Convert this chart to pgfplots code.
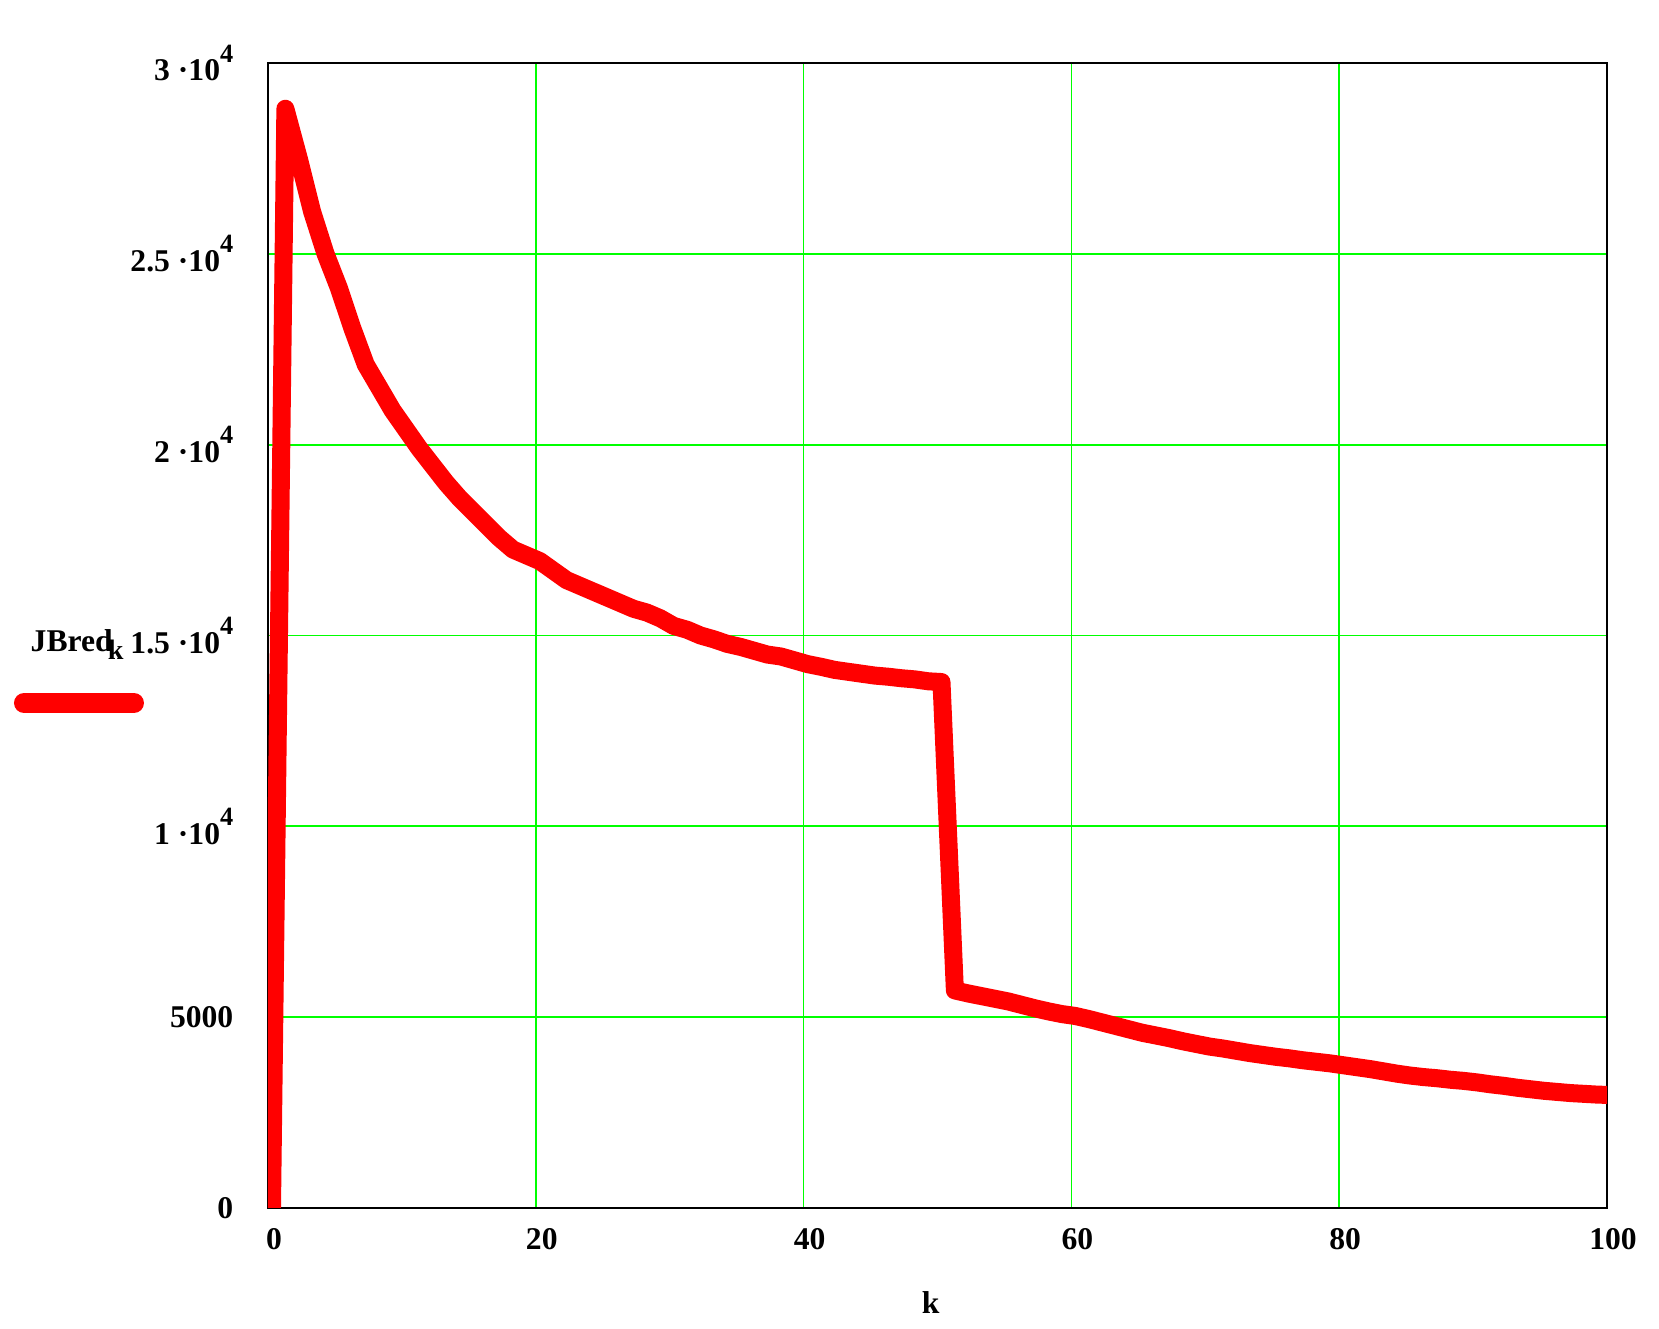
\documentclass[border=0pt]{standalone}
\usepackage{fontspec}
\setmainfont{Liberation Serif}
\usepackage{pgfplots}
\pgfplotsset{compat=1.18}
\definecolor{mcgreen}{RGB}{0,255,0}
\definecolor{mcred}{RGB}{255,0,0}
\newcommand{\sci}[2]{#1 ·10\raisebox{5.4pt}{\fontsize{7.5}{8}\selectfont #2}}
\newcommand{\lbl}{\fontsize{9}{10}\selectfont\bfseries}

\begin{document}
\begin{tikzpicture}
\begin{axis}[
    scale only axis,
    width=13.39cm,
    height=11.45cm,
    xmin=0, xmax=100,
    ymin=0, ymax=30000,
    xtick={0,20,...,100},
    xticklabels={0,20,40,60,80,100},
    ytick={0,5000,...,30000},
    yticklabels={0,5000,\sci{1}{4},\sci{1.5}{4},\sci{2}{4},\sci{2.5}{4},\sci{3}{4}},
    scaled y ticks=false,
    grid=major,
    grid style={mcgreen, line width=0.5pt},
    major tick length=0pt,
    axis line style={black, line width=0.8pt},
    tick label style={font=\lbl},
    yticklabel style={anchor=east, inner sep=0pt, xshift=-3.4mm},
    xticklabel style={anchor=north, inner sep=0pt, yshift=-2mm, xshift=0.6mm},
    xlabel={k},
    xlabel style={font=\lbl, at={(axis description cs:0.495,-0.083)}, anchor=center},
]

% JBred_k  (Mathcad draws the trace a few pixels right of the grid)
\addplot[mcred, line width=1.8mm, line join=round, line cap=round, xshift=0.4mm] coordinates {
    (0,0) (1,28800) (2,27500) (3,26100) (4,25000) (5,24100) (6,23050)
    (7,22100) (8,21500) (9,20900) (10,20400) (11,19900) (12,19450)
    (13,19000) (14,18600) (15,18250) (16,17900) (17,17550) (18,17250)
    (19,17100) (20,16950) (21,16700) (22,16450) (23,16300) (24,16150)
    (25,16000) (26,15850) (27,15700) (28,15600) (29,15450) (30,15250)
    (31,15150) (32,15000) (33,14900) (34,14780) (35,14700) (36,14600)
    (37,14500) (38,14450) (39,14350) (40,14250) (41,14180) (42,14100)
    (43,14050) (44,14000) (45,13950) (46,13920) (47,13880) (48,13850)
    (49,13800) (50,13780) (51,5700) (52,5620) (53,5550) (54,5480)
    (55,5410) (56,5320) (57,5230) (58,5150) (59,5080) (60,5030)
    (61,4950) (62,4860) (63,4770) (64,4680) (65,4590) (66,4520)
    (67,4450) (68,4370) (69,4300) (70,4230) (71,4180) (72,4120)
    (73,4060) (74,4010) (75,3960) (76,3920) (77,3870) (78,3830)
    (79,3790) (80,3740) (81,3690) (82,3640) (83,3580) (84,3520)
    (85,3470) (86,3430) (87,3400) (88,3360) (89,3330) (90,3290)
    (91,3240) (92,3200) (93,3150) (94,3110) (95,3070) (96,3040)
    (97,3010) (98,2990) (99,2970) (100,2960)
};
\end{axis}

% legend, Mathcad style: name above a sample of the trace
\node[anchor=base west, inner sep=0pt, font=\lbl]
    at ([xshift=-2.38cm, yshift=5.56cm]current axis.south west)
    {JBred\kern-0.15em\raisebox{-2.2pt}{\fontsize{8}{8}\selectfont k}};
\draw[mcred, line width=2mm, line cap=round]
    ([xshift=-2.44cm, yshift=5.05cm]current axis.south west) -- ++(1.1cm,0);

\pgfresetboundingbox
\path[use as bounding box]
    ([xshift=-2.68cm, yshift=-1.21cm]current axis.south west)
    rectangle ([xshift=0.52cm, yshift=0.63cm]current axis.north east);
\end{tikzpicture}
\end{document}
